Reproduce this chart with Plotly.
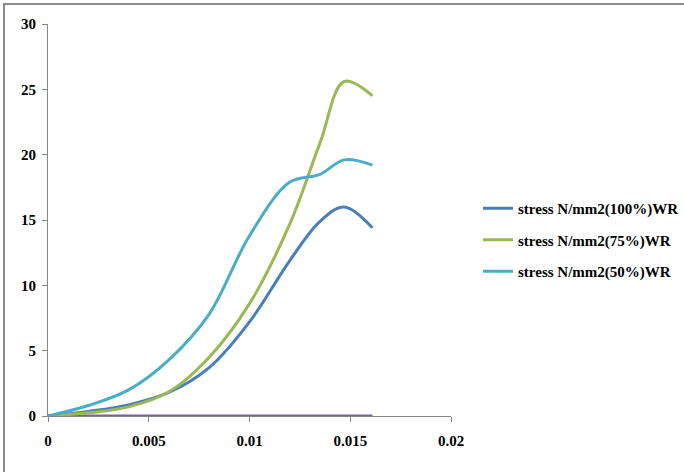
import plotly.graph_objects as go

# strain values (x) shared by the stress series
strain = [0, 0.002, 0.004, 0.006, 0.008, 0.010, 0.012, 0.0135, 0.0147, 0.0161]

# stress N/mm2 for each water ratio
stress_100 = [0, 0.35, 0.85, 1.8, 3.7, 7.2, 11.9, 14.9, 16.0, 14.4]
stress_75 = [0, 0.25, 0.7, 1.85, 4.5, 8.6, 14.7, 20.9, 25.6, 24.5]
stress_50 = [0, 0.8, 2.0, 4.3, 7.8, 13.8, 17.9, 18.5, 19.6, 19.2]
baseline = [0, 0, 0, 0, 0, 0, 0, 0, 0, 0]

names = ["stress N/mm2(100%)WR", "stress N/mm2(75%)WR", "stress N/mm2(50%)WR"]
colors = ["#4A7EBB", "#98B954", "#4BACC6"]

x_ticks = [0, 0.005, 0.01, 0.015, 0.02]
x_tick_text = ["0", "0.005", "0.01", "0.015", "0.02"]
y_ticks = [0, 5, 10, 15, 20, 25, 30]

fig = go.Figure()

# zero line series, drawn first so it sits under the curves
fig.add_trace(go.Scatter(
    x=strain, y=baseline, mode="lines", showlegend=False,
    line=dict(color="#7D60A0", width=3),
))

for i, (ys, name, col) in enumerate(zip([stress_100, stress_75, stress_50], names, colors)):
    fig.add_trace(go.Scatter(
        x=strain, y=ys, mode="lines", name=name, legendgroup=f"g{i}",
        line=dict(color=col, width=3, shape="spline", smoothing=1.0),
    ))

font_family = "Liberation Serif"
fig.update_layout(
    width=684, height=472,
    margin=dict(l=48, r=233, t=24, b=56, autoexpand=False),
    paper_bgcolor="white", plot_bgcolor="white",
    font=dict(family=font_family, size=15, color="black"),
    showlegend=True,
    legend=dict(
        x=1.067, y=(416 - 240) / 392, xanchor="left", yanchor="middle",
        font=dict(family=font_family, size=15, color="black", weight="bold"),
        tracegroupgap=9, itemwidth=30, bgcolor="rgba(0,0,0,0)",
    ),
    xaxis=dict(
        range=[0, 0.02], tickvals=x_ticks, ticktext=x_tick_text,
        showgrid=False, zeroline=False, showline=True, linecolor="#868686",
        linewidth=1, ticks="outside", ticklen=5, tickcolor="#868686",
        ticklabelstandoff=6,
        tickfont=dict(family=font_family, size=15, color="black", weight="bold"),
    ),
    yaxis=dict(
        range=[0, 30], tickvals=y_ticks,
        showgrid=False, zeroline=False, showline=True, linecolor="#868686",
        linewidth=1, ticks="outside", ticklen=5, tickcolor="#868686",
        ticklabelstandoff=3,
        tickfont=dict(family=font_family, size=15, color="black", weight="bold"),
    ),
    shapes=[
        dict(type="rect", xref="paper", yref="paper",
             x0=(4 - 48) / 403, x1=(700 - 48) / 403,
             y0=(416 - 490) / 392, y1=(416 - 4) / 392,
             line=dict(color="#8C8C8C", width=2), layer="below"),
    ],
)

fig.write_html("out.html")
